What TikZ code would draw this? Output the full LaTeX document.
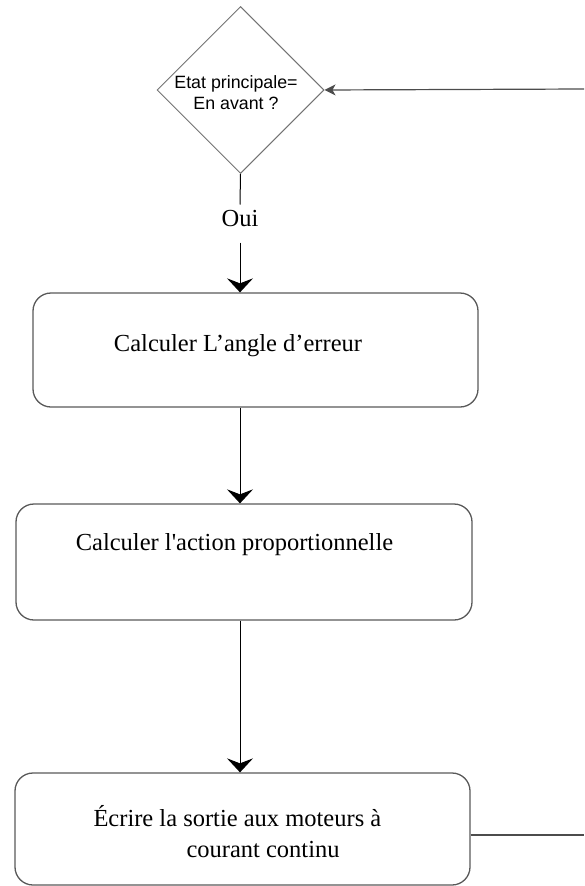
\documentclass[tikz,border=0pt]{standalone}
\usepackage{fontspec}
\setmainfont{Liberation Serif}[Ligatures=TeXOff]
\newfontfamily\diamfont{Liberation Sans}
\usepackage{tikz}
\usetikzlibrary{arrows.meta}
\usetikzlibrary{shapes.geometric}
\newcommand{\drawarrow}{\draw[-{Stealth[length=14pt, width=26pt, inset=5pt]}]}
\newcommand{\drawbackarrow}{\draw[-{Stealth[length=11pt, width=11pt, inset=3pt]}]}
\tikzset{
    procbox/.style={draw=black!65, line width=1.3pt, rounded corners=18pt, inner sep=0pt},
    decision/.style={diamond, draw=black!55, line width=1pt, aspect=1, minimum size=167pt, inner sep=0pt},
    boxtext/.style={font=\fontsize{24.5}{31}\selectfont, inner sep=0pt, anchor=base},
}

\begin{document}
\begin{tikzpicture}[x=1pt, y=-1pt, line width=1pt]
    \useasboundingbox (0,0) rectangle (584,886);

    % Draw decision
    \coordinate (axis) at (240, 0);
    \node[decision] (etat) at (240.5, 90) {};
    \node[font=\diamfont\fontsize{17.8}{21}\selectfont, align=center, inner sep=0pt] (etattxt) at (236, 93) {Etat principale=\\En avant ?};
    \node[font=\fontsize{24.5}{31}\selectfont, anchor=base, inner sep=0pt, text height=21pt, text depth=16pt] (oui) at (240, 226) {Oui};

    % Draw steps
    \node[procbox, minimum width=445pt, minimum height=114pt] (angle) at (255.5, 350) {};
    \node[procbox, minimum width=456pt, minimum height=116pt] (action) at (244, 562) {};
    \node[procbox, minimum width=455pt, minimum height=112pt] (ecrire) at (242.5, 829) {};

    \node[boxtext] (angletxt) at (238, 351) {Calculer L’angle d’erreur};
    \node[boxtext] (actiontxt) at (234.5, 550) {Calculer l'action proportionnelle};
    \node[boxtext, anchor=base west, align=left] (ecriretxt) at (93, 857) {Écrire la sortie aux moteurs à\\\hspace*{93pt}courant continu};

    % Draw connectors
    \draw (etat.south) -- (oui.north);
    \drawarrow (oui.south) -- (angle.north -| axis);
    \drawarrow (angle.south -| axis) -- (action.north -| axis);
    \drawarrow (action.south -| axis) -- (ecrire.north -| axis);

    % Loop back
    \coordinate (retbot) at (584, 835);
    \coordinate (rettop) at (584, 89);
    \draw[black!70, line width=1.2pt] (ecrire.east |- retbot) -- (retbot);
    \drawbackarrow[black!70, line width=1.2pt] (rettop) -- (etat.east);
\end{tikzpicture}
\end{document}
